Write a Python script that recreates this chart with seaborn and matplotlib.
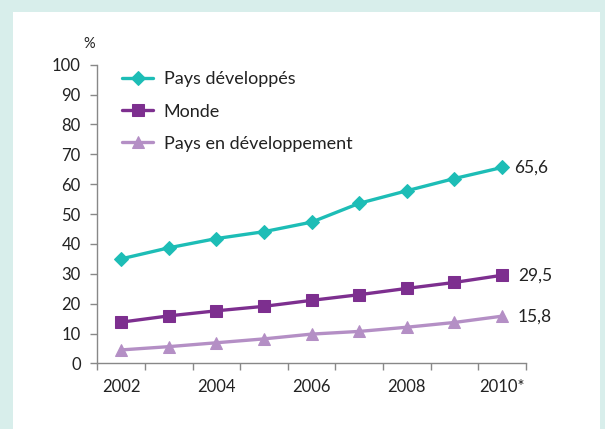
import pandas as pd
import numpy as np
import matplotlib
matplotlib.use('Agg')
import matplotlib.pyplot as plt
import seaborn as sns
from matplotlib.patches import Rectangle

# Data
years = ['2002', '2003', '2004', '2005', '2006', '2007', '2008', '2009', '2010*']
developed = [35.0, 38.7, 41.8, 44.1, 47.3, 53.6, 57.8, 61.9, 65.6]
world = [13.8, 15.9, 17.6, 19.1, 21.1, 23.0, 25.1, 27.1, 29.5]
developing = [4.5, 5.6, 6.9, 8.2, 9.8, 10.7, 12.1, 13.7, 15.8]
series_names = ['Pays développés', 'Monde', 'Pays en développement']

df = pd.DataFrame({
    'idx': list(range(len(years))) * 3,
    'value': developed + world + developing,
    'serie': [s for s in series_names for _ in years],
})

sns.set_style("white")
plt.rcParams['font.family'] = ['Lato', 'DejaVu Sans']

colors = {'Pays développés': '#1dbdb6', 'Monde': '#7d2f8f', 'Pays en développement': '#b48fc5'}
markers = {'Pays développés': 'D', 'Monde': 's', 'Pays en développement': '^'}
msizes = {'Pays développés': 7, 'Monde': 9, 'Pays en développement': 9}

fig = plt.figure(figsize=(6.05, 4.29), dpi=100)
fig.patch.set_facecolor('#d8eeeb')
fig.patches.append(Rectangle((13 / 605, 0), 587 / 605, (429 - 12) / 429,
                             transform=fig.transFigure, facecolor='white',
                             edgecolor='none', zorder=-5))
ax = fig.add_axes([0.161, 0.153, 0.708, 0.696])
ax.set_facecolor('none')

for name in series_names:
    sub = df[df['serie'] == name]
    sns.lineplot(data=sub, x='idx', y='value', ax=ax, color=colors[name],
                 marker=markers[name], markersize=msizes[name],
                 markeredgecolor=colors[name], linewidth=2.4, label=name)

# end labels
last = len(years) - 1
for vals, dx in [(developed, 8.6), (world, 11.5), (developing, 11.5)]:
    ax.annotate(f"{vals[-1]:.1f}".replace('.', ','), (last, vals[-1]),
                xytext=(dx, 0), textcoords='offset points',
                va='center', ha='left', fontsize=12.5, color='#222222',
                annotation_clip=False)

ax.set_xlim(-0.5, len(years) - 0.5)
ax.set_ylim(0, 100)
ax.set_yticks(np.arange(0, 101, 10))
ax.set_xticks(range(0, len(years), 2))
ax.set_xticklabels([years[i] for i in range(0, len(years), 2)])
ax.set_xticks(np.arange(-0.5, len(years), 1), minor=True)
ax.tick_params(axis='x', which='major', length=0, pad=11, labelsize=12, labelcolor='#222222')
ax.tick_params(axis='x', which='minor', length=5, color='#888888', width=1, bottom=True)
ax.tick_params(axis='y', length=5, color='#888888', width=1, labelsize=12,
               labelcolor='#222222', left=True, pad=7)
ax.set_xlabel('')
ax.set_ylabel('')
for side in ['top', 'right']:
    ax.spines[side].set_visible(False)
for side in ['left', 'bottom']:
    ax.spines[side].set_color('#888888')
    ax.spines[side].set_linewidth(1)

ax.text(-0.005, 1.045, '%', transform=ax.transAxes, ha='right', va='bottom',
        fontsize=10.5, color='#222222')

leg = ax.legend(loc='upper left', bbox_to_anchor=(0.02, 1.032), frameon=False,
                fontsize=13, handlelength=1.7, labelspacing=0.89, handletextpad=0.6)
for t in leg.get_texts():
    t.set_color('#222222')

fig.savefig('out.png', dpi=100)
